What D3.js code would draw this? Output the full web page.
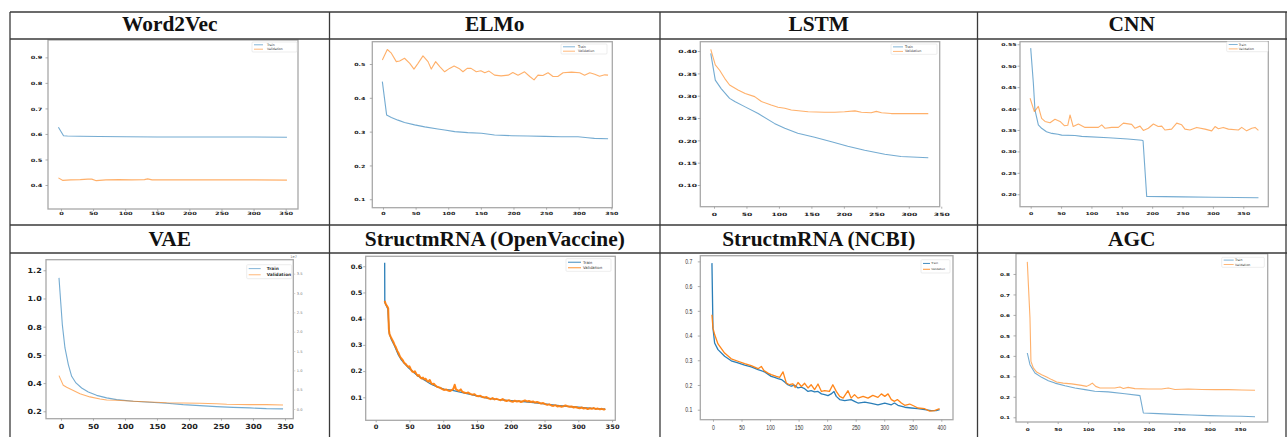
<!DOCTYPE html>
<html>
<head>
<meta charset="utf-8">
<script src="https://cdn.jsdelivr.net/npm/d3@7"></script>
<style>
  body { margin: 0; background: #fff; }
  svg { display: block; }
</style>
</head>
<body>
<div id="chart"></div>
<script>
// ---- data ----
const titles = ["Word2Vec", "ELMo", "LSTM", "CNN", "VAE", "StructmRNA (OpenVaccine)", "StructmRNA (NCBI)", "AGC"];

const xTicks350 = [0, 50, 100, 150, 200, 250, 300, 350];
const xTicks400 = [0, 50, 100, 150, 200, 250, 300, 350, 400];

const w2vYTicks = [0.4, 0.5, 0.6, 0.7, 0.8, 0.9];
const elmoYTicks = [0.1, 0.2, 0.3, 0.4, 0.5];
const lstmYTicks = [0.10, 0.15, 0.20, 0.25, 0.30, 0.35, 0.40];
const cnnYTicks = [0.20, 0.25, 0.30, 0.35, 0.40, 0.45, 0.50, 0.55];
const vaeYTicks = [1.2, 1.0, 0.8, 0.6, 0.4, 0.2];
const vaeYLabels = ["1.2", "1.0", "0.8", "0.5", "0.4", "0.2"];
const vaeRightTicks = [0.0, 0.5, 1.0, 1.5, 2.0, 2.5, 3.0, 3.5];
const ovYTicks = [0.1, 0.2, 0.3, 0.4, 0.5, 0.6];
const ncbiYTicks = [0.1, 0.2, 0.3, 0.4, 0.5, 0.6, 0.7];
const agcYTicks = [0.1, 0.2, 0.3, 0.4, 0.5, 0.6, 0.7, 0.8];

const w2vTrain = [[-4,0.626],[4,0.593],[10,0.592],[30,0.591],[60,0.590],[100,0.589],[150,0.588],[200,0.588],[250,0.588],[300,0.588],[352,0.587]];
const w2vVal = [[-4,0.428],[3,0.418],[15,0.420],[30,0.421],[42,0.423],[48,0.423],[55,0.417],[70,0.420],[90,0.421],[110,0.420],[130,0.421],[135,0.424],[142,0.420],[180,0.420],[250,0.420],[300,0.420],[352,0.419]];

const elmoTrain = [[-1,0.448],[5.6,0.349],[12.8,0.342],[23,0.334],[33,0.327],[48.5,0.320],[64,0.314],[84,0.308],[94.5,0.305],[110,0.300],[130,0.297],[151,0.295],[171,0.290],[197,0.288],[222,0.287],[248,0.286],[273,0.285],[299,0.285],[314,0.282],[324,0.280],[345,0.279]];
const elmoVal = [[-1,0.512],[6.6,0.543],[12.8,0.532],[20.4,0.507],[25.5,0.509],[33,0.517],[41,0.502],[47.5,0.485],[53.7,0.502],[61.3,0.524],[69,0.507],[74,0.485],[80.7,0.507],[87,0.492],[94.5,0.477],[102,0.487],[109,0.494],[116.5,0.487],[122.6,0.477],[129,0.487],[135,0.487],[143,0.477],[150,0.480],[156,0.474],[162.5,0.479],[171,0.467],[181,0.465],[192,0.467],[199,0.475],[207,0.467],[217,0.477],[225,0.463],[231.5,0.453],[237.6,0.467],[245,0.466],[253,0.474],[260.6,0.463],[268,0.463],[276,0.474],[289,0.476],[301.5,0.474],[309,0.467],[317,0.474],[324.5,0.470],[332,0.464],[340,0.468],[345,0.467]];

const lstmTrain = [[-5,0.395],[2,0.335],[11,0.316],[24,0.294],[32,0.287],[48,0.275],[68,0.260],[93,0.238],[109,0.227],[129,0.216],[155,0.207],[181,0.197],[206,0.187],[232,0.178],[263,0.169],[288,0.164],[330,0.161]];
const lstmVal = [[-5,0.404],[2,0.369],[8.7,0.357],[16.4,0.339],[24,0.324],[37,0.313],[48,0.305],[62.6,0.298],[73,0.287],[88,0.279],[98.6,0.274],[109,0.272],[119,0.268],[145,0.264],[170,0.263],[186,0.263],[201,0.264],[217,0.266],[227,0.263],[242,0.262],[250,0.265],[258,0.262],[273,0.260],[330,0.260]];

const cnnTrain = [[0,0.541],[4.4,0.459],[7,0.397],[12.6,0.362],[18,0.354],[26,0.346],[35,0.342],[45,0.340],[51,0.338],[73,0.337],[84,0.335],[128,0.332],[160,0.329],[183,0.326],[185,0.325],[191,0.195],[250,0.194],[300,0.193],[375,0.192]];
const cnnVal = [[-1,0.424],[6,0.393],[12.6,0.405],[18,0.377],[23.6,0.370],[31.8,0.367],[40,0.375],[48.3,0.370],[55.4,0.360],[61,0.361],[64.8,0.385],[70,0.358],[78.5,0.364],[89.5,0.356],[100.4,0.356],[111.4,0.356],[117,0.362],[122.4,0.354],[133.4,0.356],[144.3,0.356],[152.6,0.366],[166.3,0.363],[171.8,0.354],[180,0.359],[185.5,0.349],[193.7,0.354],[202,0.364],[210,0.358],[215.7,0.359],[221,0.350],[232,0.352],[240.4,0.366],[248.6,0.362],[254,0.352],[262.3,0.350],[273.3,0.356],[287,0.352],[298,0.348],[303.5,0.358],[309,0.353],[317,0.356],[325.5,0.352],[342,0.350],[347.4,0.356],[355.6,0.348],[364,0.354],[369.4,0.356],[374.9,0.349]];

const vaeTrain = [[-3.1,1.146],[-0.5,0.980],[2.1,0.815],[6.25,0.649],[11.5,0.531],[16.7,0.448],[23.4,0.401],[32.3,0.365],[42.7,0.337],[55.7,0.313],[71.4,0.295],[87,0.283],[113,0.271],[139,0.264],[165,0.257],[191,0.247],[217,0.240],[243,0.233],[269,0.228],[295,0.224],[321,0.219],[347,0.217]];
const vaeVal = [[-3.1,0.453],[3.6,0.384],[8.9,0.370],[19.3,0.347],[29.7,0.325],[45.3,0.302],[61,0.287],[71.4,0.280],[87,0.278],[113,0.271],[139,0.266],[165,0.261],[191,0.259],[217,0.257],[243,0.254],[259,0.250],[295,0.247],[321,0.247],[347,0.245]];

const ovTrain = [[13.3,0.613],[13.5,0.462],[16,0.448],[18,0.437],[20,0.345],[23,0.322],[28,0.296],[33,0.265],[38,0.243],[43,0.228],[48,0.214],[55,0.198],[62,0.182],[72,0.166],[82,0.150],[92,0.139],[102,0.130],[112,0.127],[122,0.122],[135,0.114],[150,0.105],[165,0.097],[180,0.092],[195,0.088],[210,0.085],[230,0.081],[250,0.075],[265,0.070],[280,0.066],[300,0.062],[320,0.058],[340,0.055]];
const ovVal = [[13.3,0.468],[15,0.455],[17,0.447],[18.5,0.440],[19.5,0.36],[20.5,0.340],[22,0.332],[24,0.322],[26,0.312],[28,0.300],[30,0.290],[32,0.277],[34,0.268],[36,0.255],[38,0.248],[40,0.242],[42,0.232],[44,0.228],[46,0.222],[48,0.216],[50,0.218],[52,0.207],[54,0.199],[56,0.196],[58,0.199],[60,0.190],[62,0.182],[64,0.185],[66,0.176],[68,0.172],[70,0.175],[72,0.168],[74,0.171],[76,0.163],[78,0.160],[80,0.166],[82,0.155],[84,0.150],[86,0.152],[88,0.146],[90,0.142],[92,0.139],[95,0.137],[98,0.132],[101,0.128],[104,0.130],[107,0.126],[110,0.124],[113,0.128],[115,0.132],[117,0.148],[119,0.130],[121,0.127],[123,0.124],[126,0.130],[128,0.122],[131,0.118],[134,0.116],[137,0.118],[140,0.113],[143,0.110],[146,0.112],[149,0.106],[152,0.104],[155,0.106],[158,0.101],[161,0.099],[164,0.101],[167,0.096],[170,0.093],[173,0.097],[176,0.092],[179,0.094],[182,0.091],[185,0.089],[188,0.093],[191,0.088],[194,0.086],[197,0.089],[200,0.085],[203,0.083],[206,0.087],[209,0.084],[212,0.086],[215,0.082],[218,0.085],[221,0.088],[224,0.084],[227,0.086],[230,0.082],[233,0.084],[236,0.080],[239,0.082],[242,0.079],[245,0.076],[248,0.078],[251,0.074],[254,0.071],[257,0.073],[260,0.069],[263,0.067],[266,0.070],[269,0.065],[272,0.067],[275,0.064],[278,0.066],[281,0.069],[284,0.066],[287,0.064],[290,0.065],[293,0.061],[296,0.063],[299,0.060],[302,0.058],[305,0.061],[308,0.057],[311,0.059],[314,0.055],[317,0.058],[320,0.056],[323,0.059],[326,0.055],[329,0.057],[332,0.054],[335,0.056],[338,0.053],[340,0.056]];

const ncbiTrain = [[-1.8,0.693],[0,0.430],[2.9,0.370],[8.8,0.343],[20.4,0.316],[32,0.298],[43.8,0.289],[55.5,0.280],[67,0.273],[79,0.262],[90.5,0.253],[102,0.235],[108,0.231],[114,0.226],[120,0.222],[125.6,0.212],[131,0.201],[137,0.195],[143,0.199],[149,0.188],[155,0.191],[160.6,0.185],[166.5,0.174],[172,0.177],[178,0.172],[184,0.174],[190,0.164],[195.7,0.161],[201.5,0.157],[207,0.164],[212,0.174],[216,0.154],[222,0.141],[230.7,0.137],[242,0.141],[248,0.134],[254,0.127],[266,0.131],[277.5,0.126],[289,0.120],[301,0.127],[312.5,0.120],[318,0.127],[324,0.118],[336,0.110],[347.5,0.107],[359,0.104],[371,0.100],[382.6,0.096],[391,0.096],[397,0.100]];
const ncbiVal = [[-1.8,0.484],[0,0.430],[2.9,0.404],[8.8,0.366],[20.4,0.329],[32,0.306],[43.8,0.296],[55.5,0.286],[67,0.278],[79,0.266],[84.7,0.275],[89.4,0.258],[96.4,0.248],[102,0.242],[111,0.235],[116.8,0.231],[122.7,0.253],[128.5,0.208],[134,0.201],[140,0.205],[144,0.190],[149,0.210],[155,0.194],[160.6,0.207],[166.5,0.188],[172,0.201],[178,0.181],[184,0.204],[190,0.174],[195.7,0.177],[204,0.174],[210,0.201],[216,0.174],[222,0.154],[228,0.147],[236.6,0.177],[242,0.147],[248,0.161],[254,0.147],[263,0.154],[271.6,0.147],[280,0.158],[289,0.150],[295,0.164],[301,0.154],[306.7,0.164],[312.5,0.141],[318,0.134],[323,0.141],[330,0.127],[336,0.118],[344.6,0.123],[353,0.114],[359,0.107],[371,0.104],[379.7,0.094],[388,0.096],[397,0.104]];

const agcTrain = [[0,0.414],[4.4,0.357],[12.6,0.316],[23.6,0.295],[34.6,0.279],[45.5,0.267],[62,0.254],[78.4,0.243],[95,0.235],[111,0.227],[133,0.224],[160.7,0.215],[182.7,0.207],[185.4,0.206],[191,0.121],[215.6,0.118],[243,0.114],[270,0.111],[298,0.108],[325,0.106],[352.7,0.105],[374.7,0.103]];
const agcVal = [[0,0.859],[4.4,0.585],[6,0.373],[9.9,0.341],[15.4,0.321],[23.6,0.308],[31.8,0.297],[40,0.284],[48.3,0.272],[59,0.267],[73,0.263],[89.4,0.256],[97.6,0.251],[103,0.259],[107,0.267],[112.5,0.251],[119.6,0.243],[133,0.243],[144,0.243],[152.5,0.248],[158,0.241],[166,0.246],[177,0.240],[199,0.238],[221,0.238],[232,0.243],[243,0.236],[265,0.238],[287,0.236],[309,0.235],[331,0.235],[352.7,0.233],[374.7,0.232]];

// ---- layout ----
const W = 1287, H = 437;
const colX = [10, 329.5, 660, 977.5, 1286];
const rowY = [12, 39, 225, 253, 437];
const titleBase = [31, 245.5];

const squashed = { family: "DejaVu Sans", weight: "bold", fill: "#222" };

const panels = [
  { train: w2vTrain, val: w2vVal, frame: [48, 40, 298, 209], xDom: [-20.2, 369.2], yDom: [0.306, 0.968],
    xTicks: xTicks350, yTicks: w2vYTicks, fmt: d3.format(".1f"),
    font: { ...squashed, size: 6.6, sx: 1, sy: 0.68 }, yGap: 5.7, xOff: 4.9,
    legend: { x: 252, y: 42, w: 45, h: 10, len: 9, dx: 15, fs: 3.2 } },
  { train: elmoTrain, val: elmoVal, frame: [372.3, 41.7, 612.3, 207.7], xDom: [-16.4, 351.5], yDom: [0.075, 0.566],
    xTicks: xTicks350, yTicks: elmoYTicks, fmt: d3.format(".1f"),
    font: { ...squashed, size: 6.3, sx: 1, sy: 0.68 }, yGap: 7, xOff: 5.6,
    legend: { x: 561, y: 44, w: 46, h: 10, len: 12, dx: 17, fs: 3.3 } },
  { train: lstmTrain, val: lstmVal, frame: [700.3, 41.7, 939.7, 206.7], xDom: [-21.1, 347.6], yDom: [0.0514, 0.421],
    xTicks: xTicks350, yTicks: lstmYTicks, fmt: d3.format(".2f"),
    font: { ...squashed, size: 7.6, sx: 1, sy: 0.58 }, yGap: 3.2, xOff: 7.3,
    legend: { x: 891, y: 44, w: 46, h: 10.3, len: 10, dx: 14, fs: 3.3 } },
  { train: cnnTrain, val: cnnVal, frame: [1020, 41.7, 1268.3, 206.7], xDom: [-17.6, 391.2], yDom: [0.171, 0.556],
    xTicks: xTicks350, yTicks: cnnYTicks, fmt: d3.format(".2f"),
    font: { ...squashed, size: 6.2, sx: 1, sy: 0.66 }, yGap: 3.4, xOff: 6.6,
    legend: { x: 1226.7, y: 41.7, w: 41.3, h: 10, len: 9, dx: 12, fs: 3.1 } },
  { train: vaeTrain, val: vaeVal, frame: [46, 259.7, 293.3, 418.7], xDom: [-23.4, 363], yDom: [0.1475, 1.275],
    xTicks: xTicks350, yTicks: vaeYTicks, yLabels: vaeYLabels, fmt: d3.format(".1f"),
    font: { ...squashed, size: 8, sx: 1, sy: 0.88 }, yGap: 4.3, xOff: 7.6,
    legend: { x: 246.7, y: 264.7, w: 45, h: 14, len: 12, dx: 20, fs: 4.3 },
    right: { ticks: vaeRightTicks, dom: [-0.251, 3.862], exp: "1e7" } },
  { train: ovTrain, val: ovVal, frame: [365.7, 256.3, 615.3, 420.3], xDom: [-14.8, 354.8], yDom: [0.0122, 0.638],
    xTicks: xTicks350, yTicks: ovYTicks, fmt: d3.format(".1f"),
    font: { ...squashed, size: 6.7, sx: 1, sy: 0.92 }, yGap: 3.2, xOff: 6.4, vivid: true, valWidth: 2,
    legend: { x: 566, y: 258.7, w: 45, h: 12.6, len: 13, dx: 17, fs: 3.9 } },
  { train: ncbiTrain, val: ncbiVal, frame: [700.3, 255.7, 953, 419.7], xDom: [-22.2, 420.5], yDom: [0.0596, 0.723],
    xTicks: xTicks400, yTicks: ncbiYTicks, fmt: d3.format(".1f"),
    font: { family: "Liberation Sans", weight: "normal", fill: "#333", size: 6.4, sx: 0.8, sy: 1 }, yGap: 8, xOff: 7.6, vivid: true, valWidth: 1.3,
    legend: { x: 921, y: 259.7, w: 29, h: 13.3, len: 7, dx: 10.3, fs: 2.8 } },
  { train: agcTrain, val: agcVal, frame: [1016, 253.7, 1267.7, 422], xDom: [-18.6, 395.6], yDom: [0.077, 0.899],
    xTicks: xTicks350, yTicks: agcYTicks, fmt: d3.format(".1f"),
    font: { ...squashed, size: 5.7, sx: 1, sy: 0.7 }, yGap: 6, xOff: 7,
    legend: { x: 1221.7, y: 257.3, w: 42.6, h: 10, len: 10, dx: 13.3, fs: 3.1 } }
];

const svg = d3.select("#chart").append("svg")
  .attr("width", W).attr("height", H);

svg.append("rect").attr("width", W).attr("height", H).attr("fill", "#fff");

// plots
panels.forEach((p, i) => {
  const [x0, y0, x1, y1] = p.frame;
  const x = d3.scaleLinear().domain(p.xDom).range([x0, x1]);
  const y = d3.scaleLinear().domain(p.yDom).range([y1, y0]);
  const f = p.font;
  const g = svg.append("g");

  g.append("rect")
    .attr("x", x0).attr("y", y0).attr("width", x1 - x0).attr("height", y1 - y0)
    .attr("fill", "#fff").attr("stroke", "#a8a8a8").attr("stroke-width", 1.3);

  const styleText = sel => sel
    .attr("font-family", f.family).attr("font-weight", f.weight)
    .attr("font-size", f.size).attr("fill", f.fill);

  // left axis
  const ya = g.append("g").attr("transform", `translate(${x0},0)`)
    .call(d3.axisLeft(y).tickValues(p.yTicks).tickSize(2.5)
      .tickFormat((d, k) => p.yLabels ? p.yLabels[k] : p.fmt(d)));
  ya.select(".domain").remove();
  ya.selectAll("line").attr("stroke", "#999").attr("stroke-width", 0.8);
  ya.selectAll("text").attr("x", null).attr("dy", null)
    .attr("dominant-baseline", "central")
    .attr("transform", `translate(${-p.yGap},0) scale(${f.sx},${f.sy})`)
    .call(styleText);

  // bottom axis
  const xa = g.append("g").attr("transform", `translate(0,${y1})`)
    .call(d3.axisBottom(x).tickValues(p.xTicks).tickSize(2).tickFormat(d3.format("d")));
  xa.select(".domain").remove();
  xa.selectAll("line").attr("stroke", "#999").attr("stroke-width", 0.8);
  xa.selectAll("text").attr("y", null).attr("dy", null)
    .attr("dominant-baseline", "central")
    .attr("transform", `translate(0,${p.xOff}) scale(${f.sx},${f.sy})`)
    .call(styleText);

  // secondary axis (VAE)
  if (p.right) {
    const yr = d3.scaleLinear().domain(p.right.dom).range([y1, y0]);
    const ra = g.append("g").attr("transform", `translate(${x1},0)`)
      .call(d3.axisRight(yr).tickValues(p.right.ticks).tickSize(2).tickPadding(1.5).tickFormat(d3.format(".1f")));
    ra.select(".domain").remove();
    ra.selectAll("line").attr("stroke", "#bbb").attr("stroke-width", 0.6);
    ra.selectAll("text").attr("font-family", "DejaVu Sans").attr("font-size", 3.6).attr("fill", "#777");
    g.append("text").attr("x", x1 - 3).attr("y", y0 - 1.5)
      .attr("font-family", "DejaVu Sans").attr("font-size", 3.6).attr("fill", "#777")
      .text(p.right.exp);
  }

  // lines
  const line = d3.line().x(d => x(d[0])).y(d => y(d[1]));
  const op = p.vivid ? 0.95 : 0.62;
  g.append("path").datum(p.train).attr("d", line)
    .attr("fill", "none").attr("stroke", "#1f77b4").attr("stroke-opacity", op)
    .attr("stroke-width", p.vivid ? 1.3 : 1.1).attr("stroke-linejoin", "round");
  g.append("path").datum(p.val).attr("d", line)
    .attr("fill", "none").attr("stroke", "#ff7f0e").attr("stroke-opacity", op)
    .attr("stroke-width", p.valWidth || 1.1).attr("stroke-linejoin", "round");

  // legend
  const L = p.legend;
  const lg = g.append("g");
  lg.append("rect").attr("x", L.x).attr("y", L.y).attr("width", L.w).attr("height", L.h)
    .attr("rx", 1).attr("fill", "#fff").attr("stroke", "#e0e0e0").attr("stroke-width", 0.6);
  [["Train", "#1f77b4", 0.28], ["Validation", "#ff7f0e", 0.72]].forEach(([name, c, t]) => {
    const ly = L.y + L.h * t;
    lg.append("line").attr("x1", L.x + 2).attr("x2", L.x + 2 + L.len)
      .attr("y1", ly).attr("y2", ly).attr("stroke", c).attr("stroke-opacity", op).attr("stroke-width", 0.9);
    lg.append("text").attr("x", L.x + L.dx).attr("y", ly)
      .attr("dominant-baseline", "central")
      .attr("font-family", "DejaVu Sans").attr("font-weight", i === 4 ? "bold" : "normal")
      .attr("font-size", L.fs).attr("fill", "#333").text(name);
  });
});

// table grid
const grid = svg.append("g").attr("stroke", "#3a3a3a").attr("stroke-width", 1.3);
[rowY[0], rowY[1], rowY[2], rowY[3]].forEach(yy => {
  grid.append("line").attr("x1", colX[0]).attr("x2", W).attr("y1", yy).attr("y2", yy);
});
colX.forEach(xx => {
  grid.append("line").attr("x1", xx).attr("x2", xx).attr("y1", rowY[0]).attr("y2", H);
});

// titles
titles.forEach((t, i) => {
  const c = i % 4, r = Math.floor(i / 4);
  svg.append("text")
    .attr("x", (colX[c] + colX[c + 1]) / 2).attr("y", titleBase[r])
    .attr("text-anchor", "middle")
    .attr("font-family", "Liberation Serif, Times New Roman, serif")
    .attr("font-weight", "bold").attr("font-size", 21.4).attr("fill", "#111")
    .text(t);
});
</script>
</body>
</html>
